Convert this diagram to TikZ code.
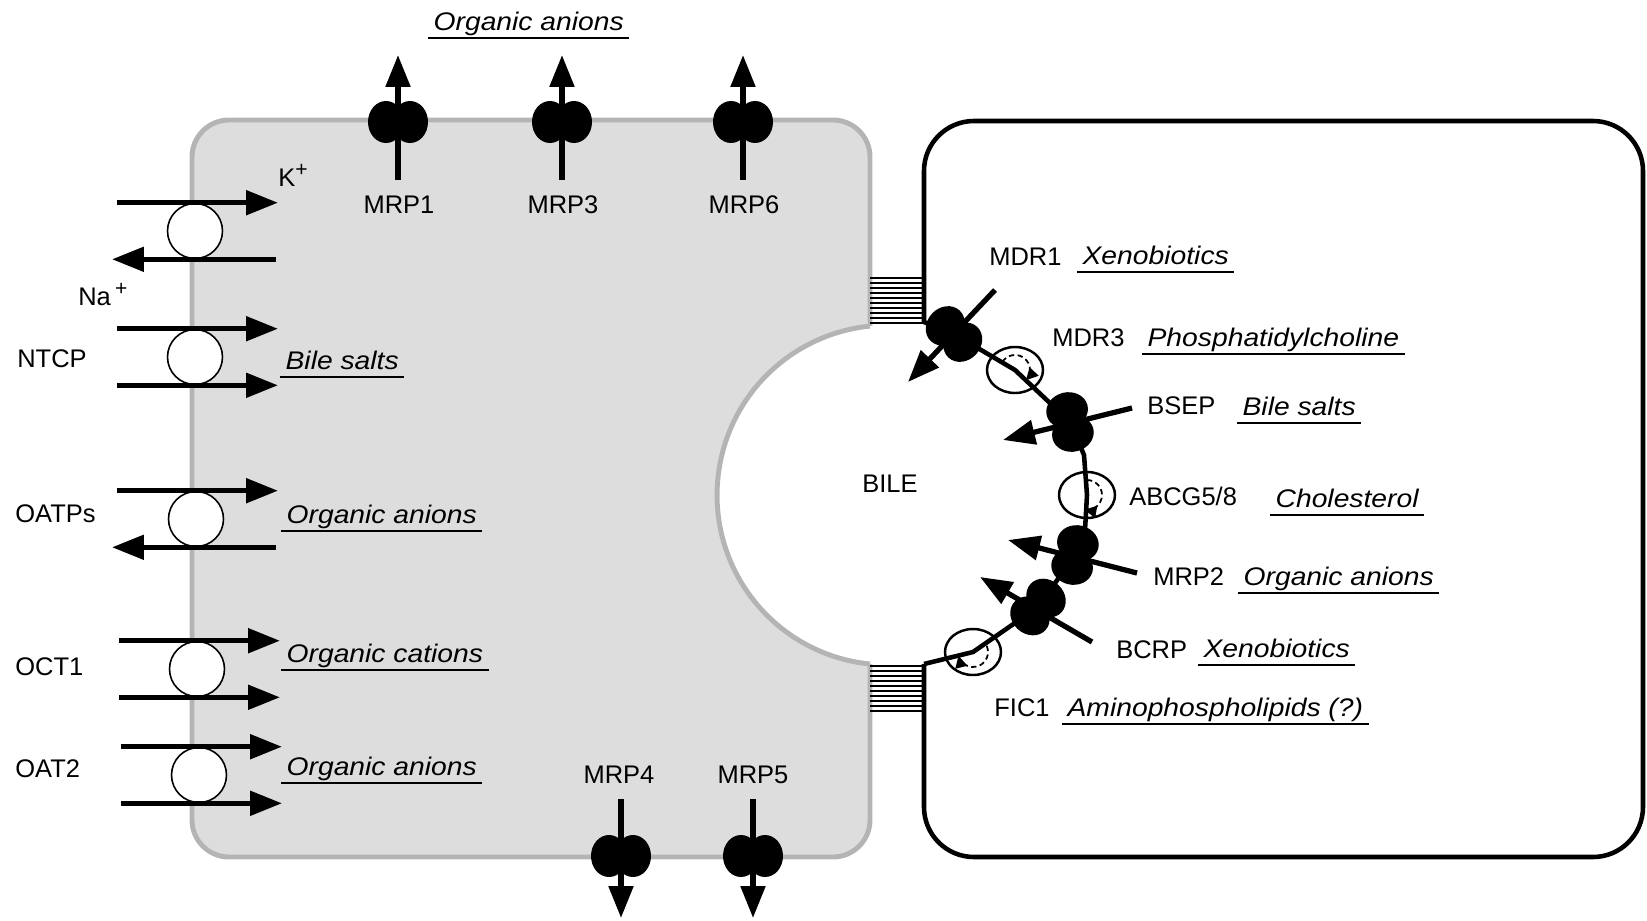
\documentclass[tikz,border=0pt]{standalone}
\usepackage{fontspec}
\setsansfont{Liberation Sans}
\newfontfamily\widesans[FakeStretch=1.11]{Liberation Sans}
\usetikzlibrary{arrows.meta,calc}
\definecolor{cellfill}{RGB}{221,221,221}
\definecolor{cellrim}{RGB}{180,180,180}
\tikzset{
  flux/.style={line width=3pt, -{Triangle[length=0.64cm,width=0.48cm]}},
  carrier/.style={circle, draw, line width=0.9pt, fill=white, minimum size=1.1cm, inner sep=0pt},
  prot/.style={font=\sffamily\fontsize{14.5}{17}\selectfont, inner sep=0pt, anchor=base west},
  subst/.style={font=\widesans\itshape\fontsize{14.5}{17}\selectfont, inner xsep=3pt, inner ysep=0pt, text depth=4.5pt, anchor=base west},
  uline/.style={line width=1.4pt},
  junction/.style={line width=1.4pt},
  membrane/.style={line width=2.6pt},
  flipring/.style={line width=1.4pt},
  pump/.pic={
    \fill (-12,0) ellipse [x radius=18, y radius=21]
          (12,0) ellipse [x radius=18, y radius=21];
  },
  flip/.pic={
    \draw[line width=1pt, densely dashed, -{Triangle[length=0.24cm,width=0.24cm]}]
      (0,-15) arc [start angle=-90, end angle=100, radius=15];
  },
}

\begin{document}
\begin{tikzpicture}[x=0.02cm, y=-0.02cm]
  \useasboundingbox (0,0) rectangle (1647,920);

  % hepatocyte, bitten by the canaliculus
  \draw[line width=2.8pt, draw=cellrim, fill=cellfill, rounded corners=0.74cm] (192,120) rectangle (870,857);
  \fill[white] (886.8,495) circle (169.8);
  \draw[line width=2.8pt, cellrim] (870,664) arc [start angle=95.7, end angle=264.3, radius=169.8];

  % tight junctions
  \foreach \k in {0,...,9} {
    \draw[junction] (870,{278+5*\k}) -- (924,{278+5*\k});
    \draw[junction] (870,{666+5*\k}) -- (924,{666+5*\k});
  }

  % neighbouring cell and canalicular membrane
  \coordinate (mdr1) at (954,334);
  \coordinate (mdr3) at (1015,370);
  \coordinate (bsep) at (1070,422);
  \coordinate (abcg) at (1087,495);
  \coordinate (mrp2) at (1075,555);
  \coordinate (bcrp) at (1038,607);
  \coordinate (fic1) at (973,652);
  \draw[membrane, rounded corners=1cm] (924,664) -- (924,857) -- (1643,857) -- (1643,121) -- (924,121) -- (924,322);
  \draw[membrane] (924,322) -- (mdr1) -- (mdr3) -- (bsep) -- (1084,455) -- (abcg)
    -- (1085,530) -- (mrp2) -- (bcrp) -- (fic1) -- (924,664);

  \foreach \f in {mdr3,abcg,fic1}
    \draw[flipring] (\f) ellipse [x radius=28, y radius=23];
  \pic[rotate=57] at (mdr3) {flip};
  \pic at (abcg) {flip};
  \pic[rotate=-66] at (fic1) {flip};
  \pic[rotate=-43] at (mdr1) {pump};
  \pic[rotate=-76] at (bsep) {pump};
  \pic[rotate=76] at (mrp2) {pump};
  \pic[rotate=48] at (bcrp) {pump};
  \draw[flux] ($(mdr1)+(41,-44)$) -- ($(mdr1)+(-46,48)$);
  \draw[flux] ($(bsep)+(62,-14)$) -- ($(bsep)+(-67,18)$);
  \draw[flux] ($(mrp2)+(62,18)$) -- ($(mrp2)+(-67,-15)$);
  \draw[flux] ($(bcrp)+(54,35)$) -- ($(bcrp)+(-58,-30)$);

  % basolateral pumps
  \coordinate (mrp1) at (398,122);
  \coordinate (mrp3) at (562,122);
  \coordinate (mrp6) at (743,122);
  \coordinate (mrp4) at (621,856);
  \coordinate (mrp5) at (753,856);
  \foreach \p in {mrp1,mrp3,mrp6,mrp4,mrp5}
    \pic at (\p) {pump};
  \foreach \p in {mrp1,mrp3,mrp6}
    \draw[flux] ($(\p)+(0,58)$) -- ($(\p)+(0,-67)$);
  \foreach \p in {mrp4,mrp5}
    \draw[flux] ($(\p)+(0,-57)$) -- ($(\p)+(0,62)$);

  % basolateral carriers
  \node[carrier] (nak) at (195,231) {};
  \node[carrier] (ntcp) at (195,357) {};
  \node[carrier] (oatp) at (196,519) {};
  \node[carrier] (oct) at (197,669) {};
  \node[carrier] (oat) at (199,775) {};
  \draw[flux] ($(nak.north)+(-78,0)$) -- ($(nak.north)+(83,0)$);
  \draw[flux] ($(nak.south)+(81,0)$) -- ($(nak.south)+(-83,0)$);
  \foreach \c in {ntcp,oct,oat} {
    \draw[flux] ($(\c.north)+(-78,0)$) -- ($(\c.north)+(83,0)$);
    \draw[flux] ($(\c.south)+(-78,0)$) -- ($(\c.south)+(83,0)$);
  }
  \draw[flux] ($(oatp.north)+(-79,0)$) -- ($(oatp.north)+(82,0)$);
  \draw[flux] ($(oatp.south)+(80,0)$) -- ($(oatp.south)+(-84,0)$);

  % transporter names
  \node[prot] (l-k) at (278,186) {K\textsuperscript{\large +}};
  \node[prot] (l-na) at (78,305) {Na\,\textsuperscript{\large +}};
  \node[prot] (l-ntcp) at (17,367) {NTCP};
  \node[prot] (l-oatp) at (15,522) {OATPs};
  \node[prot] (l-oct) at (15,675) {OCT1};
  \node[prot] (l-oat) at (15,777) {OAT2};
  \node[prot, anchor=base] (l-mrp1) at (399,213) {MRP1};
  \node[prot, anchor=base] (l-mrp3) at (563,213) {MRP3};
  \node[prot, anchor=base] (l-mrp6) at (744,213) {MRP6};
  \node[prot, anchor=base] (l-mrp4) at (619,783) {MRP4};
  \node[prot, anchor=base] (l-mrp5) at (753,783) {MRP5};
  \node[prot] (l-bile) at (862,492) {BILE};
  \node[prot] (l-mdr1) at (989,265) {MDR1};
  \node[prot] (l-mdr3) at (1052,346) {MDR3};
  \node[prot] (l-bsep) at (1147,414) {BSEP};
  \node[prot] (l-abcg) at (1129,505) {ABCG5/8};
  \node[prot] (l-mrp2) at (1153,585) {MRP2};
  \node[prot] (l-bcrp) at (1116,658) {BCRP};
  \node[prot] (l-fic1) at (994,716) {FIC1};

  % substrates
  \node[subst] (s-top) at (428,30) {Organic anions};
  \node[subst] (s-ntcp) at (280,369) {Bile salts};
  \node[subst] (s-oatp) at (281,523) {Organic anions};
  \node[subst] (s-oct) at (281,662) {Organic cations};
  \node[subst] (s-oat) at (281,775) {Organic anions};
  \node[subst] (s-mdr1) at (1077,264) {Xenobiotics};
  \node[subst] (s-mdr3) at (1142,346) {Phosphatidylcholine};
  \node[subst] (s-bsep) at (1237,415) {Bile salts};
  \node[subst] (s-abcg) at (1270,507) {Cholesterol};
  \node[subst] (s-mrp2) at (1238,585) {Organic anions};
  \node[subst] (s-bcrp) at (1198,657) {Xenobiotics};
  \node[subst] (s-fic1) at (1062,716) {Aminophospholipids (?)};
  \foreach \s in {s-top,s-ntcp,s-oatp,s-oct,s-oat,s-mdr1,s-mdr3,s-bsep,s-abcg,s-mrp2,s-bcrp,s-fic1}
    \draw[uline] (\s.south west) -- (\s.south east);
\end{tikzpicture}
\end{document}
